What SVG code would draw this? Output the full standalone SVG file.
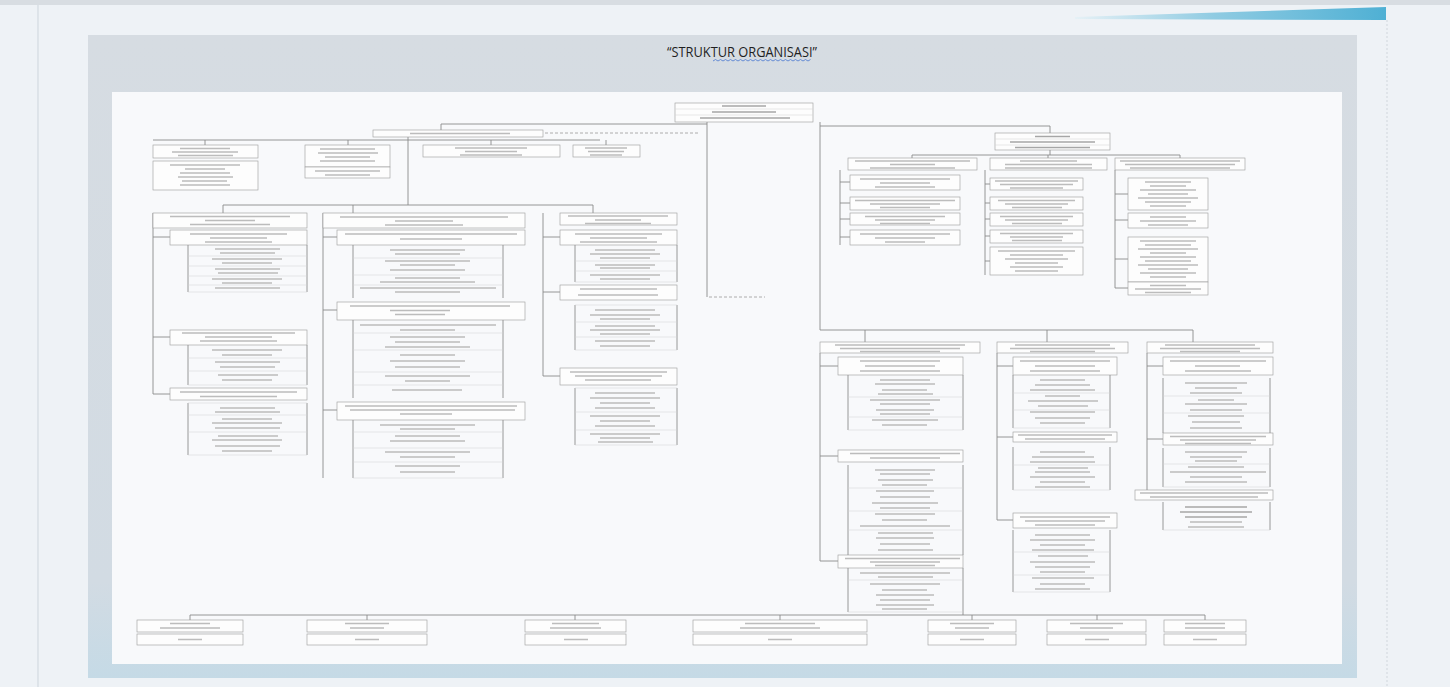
<svg xmlns="http://www.w3.org/2000/svg" width="1450" height="687" viewBox="0 0 1450 687">
<defs>
<linearGradient id="blue" x1="0" y1="0" x2="1" y2="0"><stop offset="0" stop-color="#e6f1f6"/><stop offset="0.45" stop-color="#8fcbe2"/><stop offset="1" stop-color="#4fb0d4"/></linearGradient>
<linearGradient id="panel" x1="0" y1="0" x2="0" y2="1"><stop offset="0" stop-color="#d6dce2"/><stop offset="0.85" stop-color="#d2dbe3"/><stop offset="1" stop-color="#c5dae6"/></linearGradient>
<style>
.b{fill:#fdfdfd;stroke:#9a9a9a;stroke-width:0.6}
.t{fill:none;stroke:#bcbcbc;stroke-width:1.3}
.tk{fill:none;stroke:#a6a6a6;stroke-width:1.4}
.l{fill:none;stroke:#8c8c8c;stroke-width:0.9}
.s{fill:none;stroke:#d2d2d2;stroke-width:0.5}
.c{fill:none;stroke:#8a8a8a;stroke-width:0.9}
.d{fill:none;stroke:#9a9a9a;stroke-width:0.8;stroke-dasharray:3 2}
</style>
</defs>
<rect width="1450" height="687" fill="#eef2f6"/>
<rect width="1450" height="5" fill="#d8dde2"/>
<line x1="38" y1="5" x2="38" y2="687" stroke="#cdd5dc" stroke-width="1"/>
<line x1="1387" y1="20" x2="1387" y2="687" stroke="#d0d6dc" stroke-width="1" stroke-dasharray="2 2"/>
<polygon points="1075,17 1386,7 1386,20 1075,19" fill="url(#blue)"/>
<rect x="88" y="35" width="1269" height="643" fill="url(#panel)"/>
<rect x="112" y="92" width="1230" height="572" fill="#f8f9fb"/>
<text x="742" y="57" text-anchor="middle" font-family="'Open Sans', 'Liberation Sans', sans-serif" font-size="14" fill="#1f1f1f" textLength="150" lengthAdjust="spacingAndGlyphs">“STRUKTUR ORGANISASI”</text>
<path d="M713 61 l2.5 -1.5 l2.5 1.5 l2.5 -1.5 l2.5 1.5 l2.5 -1.5 l2.5 1.5 l2.5 -1.5 l2.5 1.5 l2.5 -1.5 l2.5 1.5 l2.5 -1.5 l2.5 1.5 l2.5 -1.5 l2.5 1.5 l2.5 -1.5 l2.5 1.5 l2.5 -1.5 l2.5 1.5 l2.5 -1.5 l2.5 1.5 l2.5 -1.5 l2.5 1.5 l2.5 -1.5 l2.5 1.5 l2.5 -1.5 l2.5 1.5 l2.5 -1.5 l2.5 1.5 l2.5 -1.5 l2.5 1.5 l2.5 -1.5 l2.5 1.5 l2.5 -1.5 l2.5 1.5 l2.5 -1.5 l2.5 1.5 l2.5 -1.5 l2.5 1.5 l2.5 -1.5" fill="none" stroke="#4a78d0" stroke-width="0.8"/>

<g id="connectors">
<path class="c" d="M707 122 V297 M707 124 H441 V130 M820 122 V330 M820 126 H1050 V133"/>
<path class="d" d="M709 297 H765 M545 133 H700"/>
<path class="c" d="M408 137 V205 M153 140 H600 M205 140 V145 M348 140 V145 M491 140 V145 M606 140 V145"/>
<path class="c" d="M223 205 H593 M223 205 V213 M353 205 V213 M593 205 V213"/>
<path class="c" d="M1050 150 V155 M912 155 H1180 M912 155 V158 M1048 155 V158 M1180 155 V158"/>
<path class="c" d="M820 330 H1193 M865 330 V342 M1047 330 V342 M1193 330 V342"/>
<path class="c" d="M190 615 H1205 M190 615 V620 M367 615 V620 M575 615 V620 M780 615 V620 M972 615 V620 M1097 615 V620 M1205 615 V620 M963 612 V615"/>
<path class="c" d="M153 213 V394 M153 237 H170 M153 337 H170 M153 394 H170 M323 213 V478 M323 237 H337 M323 310 H337 M323 410 H337 M543 213 V376 M543 237 H560 M543 292 H560 M543 376 H560"/>
<path class="c" d="M840 170 V245 M840 182 H850 M840 203 H850 M840 219 H850 M840 237 H850 M985 170 V275 M985 184 H990 M985 203 H990 M985 219 H990 M985 236 H990 M985 261 H990 M1115 170 V288 M1115 194 H1128 M1115 220 H1128 M1115 259 H1128 M1115 288 H1128"/>
<path class="c" d="M820 353 V561 M820 366 H838 M820 456 H838 M820 561 H838 M997 353 V520 M997 366 H1013 M997 437 H1013 M997 520 H1013 M1147 353 V495 M1147 366 H1163 M1147 439 H1163 M1147 495 H1135"/>
</g>

<g id="kepala"><rect class="b" x="675" y="103" width="138" height="19"/><path class="s" d="M675 109 H813 M675 115 H813"/><path class="tk" d="M722 106h44 M712 112h64 M700 118h90"/></g>
<g id="sekretariat"><rect class="b" x="373" y="130" width="170" height="7"/><path class="t" d="M410 133.5h100"/></g>
<g id="sek-a1"><rect class="b" x="153" y="145" width="105" height="13"/><path class="t" d="M180 148.5h50 M172 152h66 M178 155.5h55"/></g>
<g id="sek-a2"><rect class="b" x="153" y="161" width="105" height="29"/><path class="t" d="M170 165h70 M185 169h40 M180 173h50 M178 177h55 M182 181h45 M180 185h50"/></g>
<g id="sek-b1"><rect class="b" x="305" y="145" width="85" height="22"/><path class="t" d="M320 149h55 M318 153h60 M325 157h45 M320 161h55"/></g>
<g id="sek-b2"><rect class="b" x="305" y="167" width="85" height="11"/><path class="t" d="M315 171h65 M325 175h45"/></g>
<g id="sek-c"><rect class="b" x="423" y="145" width="137" height="12"/><path class="t" d="M455 148h72 M465 151.5h52 M460 155h62"/></g>
<g id="sek-d"><rect class="b" x="573" y="145" width="67" height="12"/><path class="t" d="M585 148h42 M588 151.5h36 M590 155h32"/></g>

<g id="bidang-1">
<rect class="b" x="153" y="213" width="154" height="15"/><path class="t" d="M170 216.5h120 M205 220.5h50 M190 224.5h80"/>
<rect class="b" x="170" y="230" width="137" height="15"/><path class="t" d="M190 234h97 M210 238h57 M205 242h67"/>
<path class="l" d="M188 245 V292 M307 245 V292"/><path class="s" d="M188 256 H307 M188 266 H307 M188 276 H307 M188 285 H307 M188 292 H307"/>
<path class="t" d="M215 249h65 M220 253h55 M212 259h70 M222 263h50 M215 269h65 M218 273h60 M212 279h70 M222 283h50 M215 288h65"/>
<rect class="b" x="170" y="330" width="137" height="15"/><path class="t" d="M182 333h113 M205 337h67 M200 341h77"/>
<path class="l" d="M188 345 V385 M307 345 V385"/><path class="s" d="M188 358 H307 M188 371 H307 M188 385 H307"/>
<path class="t" d="M212 350h70 M222 355h50 M215 362h65 M220 367h55 M218 375h60 M222 380h50"/>
<rect class="b" x="170" y="388" width="137" height="12"/><path class="t" d="M180 392h117 M200 396.5h77"/>
<path class="l" d="M188 403 V455 M307 403 V455"/><path class="s" d="M188 403 H307 M188 415 H307 M188 432 H307 M188 455 H307"/>
<path class="t" d="M220 408h55 M215 412h65 M222 419h50 M212 423h70 M215 428h65 M218 436h60 M212 440h70 M215 446h65 M222 451h50"/>
</g>

<g id="bidang-2">
<rect class="b" x="323" y="213" width="202" height="15"/><path class="t" d="M340 217h168 M395 221h58 M385 225h78"/>
<rect class="b" x="337" y="230" width="188" height="15"/><path class="t" d="M345 234h172 M400 239h62"/>
<path class="l" d="M353 245 V298 M503 245 V298"/><path class="s" d="M353 258 H503 M353 275 H503 M353 285 H503"/>
<path class="t" d="M390 250h75 M395 254h65 M385 261h85 M400 265h55 M390 270h75 M395 278h65 M380 282h95 M360 288h136 M395 292h65"/>
<rect class="b" x="337" y="302" width="188" height="18"/><path class="t" d="M350 306h160 M390 310.5h60 M395 314.5h50"/>
<path class="l" d="M353 320 V398 M503 320 V398"/><path class="s" d="M353 333 H503 M353 350 H503 M353 372 H503 M353 385 H503"/>
<path class="t" d="M360 325h136 M400 330h55 M390 337h75 M395 342h65 M385 347h85 M400 355h55 M390 361h75 M395 367h65 M385 376h85 M405 381h45 M392 390h70"/>
<rect class="b" x="337" y="402" width="188" height="18"/><path class="t" d="M345 406h172 M350 410h165 M400 414h52"/>
<path class="l" d="M353 420 V478 M503 420 V478"/><path class="s" d="M353 432 H503 M353 448 H503 M353 462 H503 M353 478 H503"/>
<path class="t" d="M380 425h95 M400 429h55 M395 436h65 M390 441h75 M385 452h85 M400 457h55 M395 466h65 M400 472h55"/>
</g>

<g id="bidang-3">
<rect class="b" x="560" y="213" width="117" height="12"/><path class="t" d="M568 216h100 M595 220h46 M585 223.5h66"/>
<rect class="b" x="560" y="230" width="117" height="15"/><path class="t" d="M575 234h87 M590 238h57 M580 242h77"/>
<path class="l" d="M575 245 V282 M677 245 V282"/><path class="s" d="M575 261 H677 M575 271 H677 M575 282 H677"/>
<path class="t" d="M595 250h60 M590 254h70 M600 258h50 M595 265h60 M600 268h50 M590 275h70 M600 279h50"/>
<rect class="b" x="560" y="285" width="117" height="15"/><path class="t" d="M580 289h77 M578 295h80"/>
<path class="l" d="M575 305 V350 M677 305 V350"/><path class="s" d="M575 305 H677 M575 322 H677 M575 337 H677 M575 350 H677"/>
<path class="t" d="M595 310h60 M590 315h70 M600 319h50 M595 326h60 M590 330h70 M600 334h50 M595 341h60 M600 346h50"/>
<rect class="b" x="560" y="368" width="117" height="17"/><path class="t" d="M570 372h97 M575 376h87 M585 380h66"/>
<path class="l" d="M575 388 V445 M677 388 V445"/><path class="s" d="M575 388 H677 M575 412 H677 M575 430 H677 M575 445 H677"/>
<path class="t" d="M595 393h60 M590 398h70 M600 403h50 M595 408h60 M590 416h70 M600 421h50 M595 426h60 M590 434h70 M600 438h50 M598 442h55"/>
</g>

<g id="sekretaris-2"><rect class="b" x="995" y="133" width="115" height="17"/><path class="s" d="M995 139 H1110 M995 145 H1110"/><path class="tk" d="M1035 136.5h35 M1010 142h85 M1015 147.5h75"/></g>

<g id="bidang-a">
<rect class="b" x="848" y="158" width="129" height="12"/><path class="t" d="M855 161h115 M890 164.5h45 M870 168h85"/>
<rect class="b" x="850" y="175" width="110" height="15"/><path class="t" d="M860 179h90 M880 183h50 M875 187h60"/>
<rect class="b" x="850" y="197" width="110" height="13"/><path class="t" d="M855 200.5h100 M870 204h70 M880 207.5h50"/>
<rect class="b" x="850" y="213" width="110" height="12"/><path class="t" d="M865 216.5h80 M875 220h60 M880 223.5h50"/>
<rect class="b" x="850" y="230" width="110" height="15"/><path class="t" d="M860 234h90 M875 238h60 M885 242h40"/>
</g>

<g id="bidang-b">
<rect class="b" x="990" y="158" width="117" height="12"/><path class="t" d="M1020 161h57 M1005 164.5h87 M1005 168h87"/>
<rect class="b" x="990" y="178" width="93" height="12"/><path class="t" d="M995 181h83 M1000 184.5h73 M1010 188h53"/>
<rect class="b" x="990" y="197" width="93" height="13"/><path class="t" d="M998 200.5h77 M1005 204h63 M1012 207.5h50"/>
<rect class="b" x="990" y="213" width="93" height="13"/><path class="t" d="M1000 216.5h73 M1005 220h63 M1012 223.5h50"/>
<rect class="b" x="990" y="230" width="93" height="13"/><path class="t" d="M1000 233.5h73 M1010 237h53 M1012 240.5h50"/>
<rect class="b" x="990" y="247" width="93" height="28"/><path class="t" d="M998 251h77 M1010 255h53 M1005 259h63 M1015 263h43 M1010 267h53 M1015 271h43"/>
</g>

<g id="bidang-c">
<rect class="b" x="1115" y="158" width="130" height="12"/><path class="t" d="M1120 161h120 M1125 164.5h110 M1130 168h100"/>
<rect class="b" x="1128" y="178" width="80" height="32"/><path class="t" d="M1145 182h46 M1150 186h36 M1140 190h56 M1148 194h40 M1138 198h60 M1145 202h46 M1150 206h36"/>
<rect class="b" x="1128" y="213" width="80" height="15"/><path class="t" d="M1150 217h36 M1140 221h56 M1148 225h40"/>
<rect class="b" x="1128" y="237" width="80" height="45"/><path class="t" d="M1140 241h56 M1145 245h46 M1138 249h60 M1150 253h36 M1140 257h56 M1145 261h46 M1138 265h60 M1148 269h40 M1140 273h56 M1150 277h36"/>
<rect class="b" x="1128" y="282" width="80" height="13"/><path class="t" d="M1150 285.5h36 M1135 289h66 M1145 292.5h46"/>
</g>

<g id="bidang-l">
<rect class="b" x="820" y="342" width="160" height="11"/><path class="t" d="M835 345h130 M840 348.5h120 M860 351.5h80"/>
<rect class="b" x="838" y="357" width="125" height="18"/><path class="t" d="M860 361h80 M865 366h70 M860 371h80"/>
<path class="l" d="M848 375 V430 M963 375 V430"/><path class="s" d="M848 397 H963 M848 417 H963 M848 430 H963"/>
<path class="t" d="M880 380h50 M875 384h60 M882 390h45 M878 394h55 M870 400h70 M880 404h50 M876 410h58 M880 414h50 M872 420h66 M882 425h45"/>
<rect class="b" x="838" y="450" width="125" height="12"/><path class="t" d="M850 453.5h110 M870 458h70"/>
<path class="l" d="M848 465 V555 M963 465 V555"/><path class="s" d="M848 488 H963 M848 511 H963 M848 530 H963"/>
<path class="t" d="M875 470h60 M880 474h50 M878 480h55 M882 485h45 M876 491h58 M880 497h50 M872 503h66 M880 508h50 M875 514h60 M882 520h45 M860 526h90 M878 533h55 M876 538h58 M880 544h50 M878 550h55"/>
<rect class="b" x="838" y="555" width="125" height="13"/><path class="t" d="M845 558.5h115 M870 562h70 M875 565.5h60"/>
<path class="l" d="M848 568 V612 M963 568 V612"/><path class="s" d="M848 580 H963 M848 612 H963"/>
<path class="t" d="M860 573h90 M878 577h55 M870 584h70 M882 590h45 M876 595h58 M880 600h50 M876 605h58 M882 609h45"/>
</g>

<g id="bidang-m">
<rect class="b" x="997" y="342" width="131" height="11"/><path class="t" d="M1015 345h95 M1010 348.5h105 M1030 351.5h65"/>
<rect class="b" x="1013" y="357" width="104" height="18"/><path class="t" d="M1020 361h90 M1035 366h60 M1030 371h70"/>
<path class="l" d="M1013 375 V428 M1110 375 V428"/><path class="s" d="M1013 393 H1110 M1013 410 H1110 M1013 428 H1110"/>
<path class="t" d="M1040 380h45 M1035 385h55 M1030 390h65 M1045 396h35 M1028 401h70 M1038 406h50 M1030 412h65 M1035 418h55 M1040 423h45"/>
<rect class="b" x="1013" y="432" width="104" height="10"/><path class="t" d="M1018 435h94 M1025 439h80"/>
<path class="l" d="M1013 447 V490 M1110 447 V490"/><path class="s" d="M1013 465 H1110 M1013 490 H1110"/>
<path class="t" d="M1040 452h45 M1032 457h62 M1030 462h65 M1038 468h50 M1035 472h55 M1030 477h65 M1040 482h45 M1035 487h55"/>
<rect class="b" x="1013" y="513" width="104" height="15"/><path class="t" d="M1020 517h90 M1025 521h80 M1035 525h60"/>
<path class="l" d="M1013 530 V592 M1110 530 V592"/><path class="s" d="M1013 552 H1110 M1013 575 H1110 M1013 592 H1110"/>
<path class="t" d="M1035 535h55 M1030 540h65 M1040 545h45 M1032 550h62 M1038 556h50 M1030 562h65 M1035 567h55 M1040 572h45 M1032 578h62 M1040 584h45 M1035 589h55"/>
</g>

<g id="bidang-r">
<rect class="b" x="1147" y="342" width="126" height="11"/><path class="t" d="M1165 345h90 M1160 348.5h100 M1180 351.5h60"/>
<rect class="b" x="1163" y="357" width="110" height="18"/><path class="t" d="M1170 361h96 M1195 366h45 M1185 371h66"/>
<path class="l" d="M1163 378 V433 M1270 378 V433"/><path class="s" d="M1163 396 H1270 M1163 413 H1270"/>
<path class="t" d="M1185 383h62 M1195 388h42 M1190 393h52 M1198 400h36 M1185 404h62 M1190 410h52 M1188 416h56 M1192 422h48 M1190 428h52"/>
<rect class="b" x="1163" y="433" width="110" height="12"/><path class="t" d="M1170 436.5h96 M1180 440h76 M1185 443.5h66"/>
<path class="l" d="M1163 448 V487 M1270 448 V487"/><path class="s" d="M1163 464 H1270 M1163 487 H1270"/>
<path class="t" d="M1185 452h62 M1190 457h52 M1195 461h42 M1188 467h56 M1170 472h96 M1190 477h52 M1185 482h62"/>
<rect class="b" x="1135" y="490" width="138" height="10"/><path class="t" d="M1140 493h128 M1150 497h108"/>
<path class="l" d="M1163 502 V530 M1270 502 V530"/><path class="s" d="M1163 530 H1270"/>
<path class="tk" d="M1185 507h62 M1180 512h72 M1185 517h62"/><path class="t" d="M1190 522h52 M1188 527h56"/>
</g>

<g id="upt-1"><rect class="b" x="137" y="620" width="106" height="12"/><rect class="b" x="137" y="634" width="106" height="11"/><path class="t" d="M170 623.5h40 M160 628h60 M178 639.5h24"/></g>
<g id="upt-2"><rect class="b" x="307" y="620" width="120" height="12"/><rect class="b" x="307" y="634" width="120" height="11"/><path class="t" d="M345 623.5h44 M350 628h34 M355 639.5h24"/></g>
<g id="upt-3"><rect class="b" x="525" y="620" width="101" height="12"/><rect class="b" x="525" y="634" width="101" height="11"/><path class="t" d="M552 623.5h47 M550 628h51 M564 639.5h24"/></g>
<g id="upt-4"><rect class="b" x="693" y="620" width="174" height="12"/><rect class="b" x="693" y="634" width="174" height="11"/><path class="t" d="M745 623.5h70 M740 628h80 M768 639.5h24"/></g>
<g id="upt-5"><rect class="b" x="928" y="620" width="88" height="12"/><rect class="b" x="928" y="634" width="88" height="11"/><path class="t" d="M950 623.5h44 M955 628h34 M960 639.5h24"/></g>
<g id="upt-6"><rect class="b" x="1047" y="620" width="99" height="12"/><rect class="b" x="1047" y="634" width="99" height="11"/><path class="t" d="M1070 623.5h53 M1080 628h33 M1085 639.5h24"/></g>
<g id="upt-7"><rect class="b" x="1164" y="620" width="82" height="12"/><rect class="b" x="1164" y="634" width="82" height="11"/><path class="t" d="M1185 623.5h40 M1185 628h40 M1193 639.5h24"/></g>
</svg>
